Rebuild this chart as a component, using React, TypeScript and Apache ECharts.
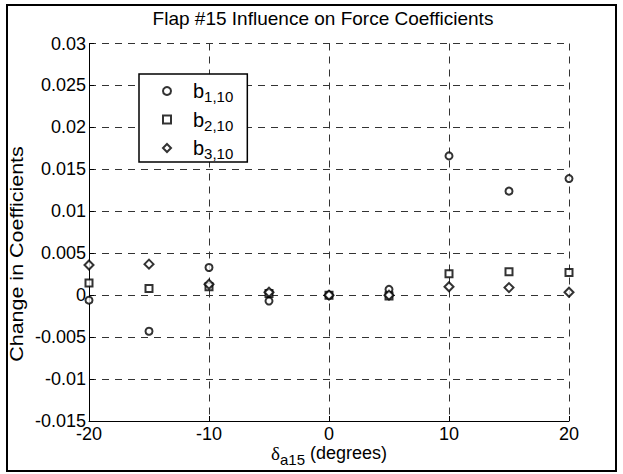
import React, { useEffect, useRef } from "react";
import * as echarts from "echarts";

// Deflection angles of flap #15 (degrees)
const deflections = [-20, -15, -10, -5, 0, 5, 10, 15, 20];

// Change in each force coefficient at those deflections
const b1_10 = [-0.0006, -0.0043, 0.0033, -0.0007, 0, 0.0007, 0.0166, 0.0124, 0.0139];
const b2_10 = [0.00145, 0.0008, 0.001, 0.0002, 0, -0.0001, 0.00256, 0.0028, 0.0027];
const b3_10 = [0.0036, 0.0037, 0.0013, 0.00035, 0, 0.0, 0.001, 0.0009, 0.00035];

const seriesNames = ["b1,10", "b2,10", "b3,10"];
const seriesSymbols = ["emptyCircle", "emptyRect", "emptyDiamond"];
const seriesValues = [b1_10, b2_10, b3_10];

const yTicks = { min: -0.015, max: 0.03, step: 0.005 };
const xTicks = { min: -20, max: 20, step: 10 };

const FONT = "'Liberation Sans', Arial, Helvetica, sans-serif";

export default function App() {
  const ref = useRef<HTMLDivElement>(null);

  useEffect(() => {
    if (!ref.current) return;
    const chart = echarts.init(ref.current, undefined, { renderer: "svg" });

    const gridDash = {
      color: "#333",
      width: 1,
      type: [7, 6] as number[],
    };

    const series = seriesNames.map((name, i) => ({
      name,
      type: "scatter",
      symbol: seriesSymbols[i],
      symbolSize: i === 2 ? 9 : 7,
      itemStyle: { color: "#000", borderColor: "#000", borderWidth: 1.4 },
      data: deflections.map((d, k) => [d, seriesValues[i][k]]),
      z: 3 + i,
    }));

    chart.setOption({
      animation: false,
      backgroundColor: "#fff",
      textStyle: { fontFamily: FONT },
      title: {
        text: "Flap #15 Influence on Force Coefficients",
        left: 323,
        top: 9,
        textAlign: "center",
        padding: 0,
        textStyle: { fontSize: 19, fontWeight: "normal", color: "#000", fontFamily: FONT },
      },
      grid: { left: 89, right: 54, top: 43.5, bottom: 53, outerBoundsMode: "none", containLabel: false },
      xAxis: {
        type: "value",
        min: xTicks.min,
        max: xTicks.max,
        interval: xTicks.step,
        name: "{d|δ}{s|a15}{t| (degrees)}",
        nameLocation: "middle",
        nameGap: 23,
        nameMoveOverlap: false,
        nameTextStyle: {
          color: "#000",
          rich: {
            d: { fontSize: 19, fontFamily: "'Liberation Serif', serif", color: "#000", lineHeight: 20, verticalAlign: "top" },
            s: { fontSize: 15, fontFamily: FONT, color: "#000", lineHeight: 14, padding: [11, 0, 0, 0] },
            t: { fontSize: 18, fontFamily: FONT, color: "#000", lineHeight: 20, verticalAlign: "top" },
          },
        },
        axisLine: { show: true, onZero: false, lineStyle: { color: "#000", width: 1 } },
        axisTick: { show: true, inside: true, length: 5, lineStyle: { color: "#000" } },
        axisLabel: { fontSize: 18, color: "#000", margin: 4, fontFamily: FONT },
        splitLine: { show: true, lineStyle: gridDash },
      },
      yAxis: {
        type: "value",
        min: yTicks.min,
        max: yTicks.max,
        interval: yTicks.step,
        axisLine: { show: true, onZero: false, lineStyle: { color: "#000", width: 1 } },
        axisTick: { show: true, inside: true, length: 5, lineStyle: { color: "#000" } },
        axisLabel: {
          fontSize: 18,
          color: "#000",
          margin: 3,
          fontFamily: FONT,
          formatter: (v: number) => String(parseFloat(v.toFixed(4))),
        },
        splitLine: { show: true, lineStyle: gridDash },
      },
      legend: {
        orient: "vertical",
        left: 139,
        top: 74,
        backgroundColor: "#fff",
        borderColor: "#000",
        borderWidth: 1.5,
        padding: [4, 14, 1, 23],
        itemGap: 2.5,
        itemWidth: 8,
        itemHeight: 8,
        data: seriesNames.map((name, i) => ({ name, icon: seriesSymbols[i] })),
        formatter: (name: string) => {
          const sub = name.slice(1);
          return `{b|b}{s|${sub}}`;
        },
        textStyle: {
          color: "#000",
          rich: {
            b: { fontSize: 20, fontFamily: FONT, color: "#000", lineHeight: 20, verticalAlign: "top", padding: [0, 0, 0, 17] },
            s: { fontSize: 15, fontFamily: FONT, color: "#000", lineHeight: 14, padding: [11, 0, 0, 0] },
          },
        },
      },
      graphic: [
        {
          type: "text",
          silent: true,
          x: 16,
          y: 254,
          rotation: Math.PI / 2,
          scaleX: 1.13,
          style: {
            text: "Change in Coefficients",
            fontSize: 19,
            fontFamily: FONT,
            fill: "#000",
            textAlign: "center",
            textVerticalAlign: "middle",
          },
        },
        {
          type: "rect",
          silent: true,
          z: 100,
          shape: { x: 7, y: 5, width: 609, height: 466 },
          style: { fill: "none", stroke: "#000", lineWidth: 2 },
        },
      ],
      series,
    });

    return () => chart.dispose();
  }, []);

  return (
    <div
      ref={ref}
      style={{ position: "absolute", left: 0, top: 0, width: 623, height: 474, background: "#fff" }}
    />
  );
}
